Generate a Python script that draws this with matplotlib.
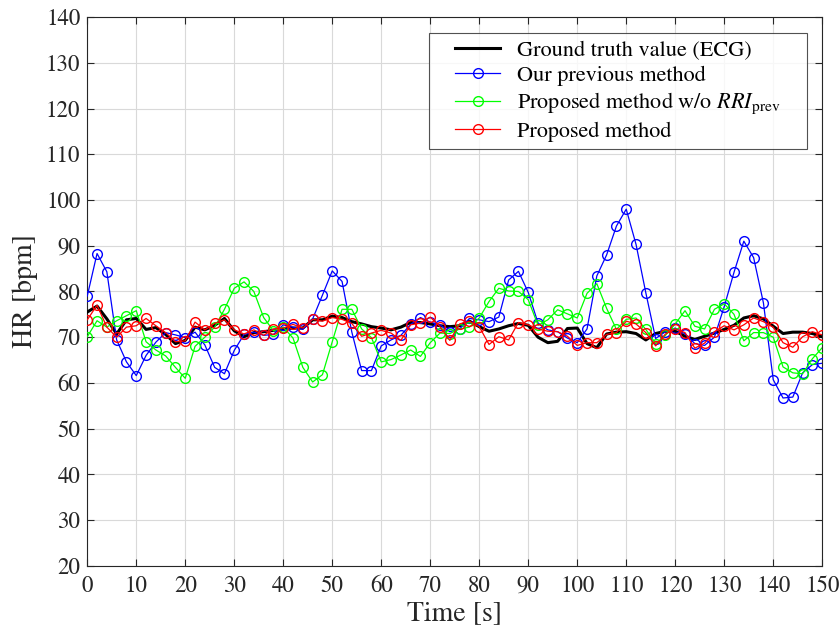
import numpy as np
import matplotlib
matplotlib.use('Agg')
import matplotlib.pyplot as plt
from matplotlib.legend_handler import HandlerLine2D

# Heart rate estimates, one value every 2 s (0 - 150 s)
time_s = np.arange(0, 151, 2)

hr_ecg = [75.5, 76.8, 74.0, 70.7, 73.8, 74.1, 71.7, 72.1, 70.6, 68.6,
          69.3, 72.2, 71.6, 72.6, 74.1, 71.4, 70.1, 71.0, 71.2, 71.5,
          71.8, 72.0, 72.0, 73.8, 73.8, 74.6, 74.3, 73.4, 72.9, 72.3,
          72.0, 71.6, 72.2, 73.2, 73.2, 72.9, 72.5, 72.3, 72.5, 73.5,
          72.3, 71.3, 71.8, 72.5, 73.0, 72.6, 70.0, 68.8, 69.1, 71.9,
          72.0, 68.6, 67.7, 70.7, 71.1, 71.2, 70.8, 69.4, 70.8, 71.3,
          71.3, 70.2, 69.5, 70.2, 70.9, 71.7, 72.6, 74.2, 74.7, 74.0,
          72.4, 70.8, 71.1, 71.1, 70.8, 70.1]

hr_previous = [79.0, 88.3, 84.3, 69.4, 64.6, 61.6, 66.0, 68.9, 71.0, 70.5,
               69.9, 71.1, 68.3, 63.4, 62.0, 67.1, 70.6, 71.1, 70.4, 70.6,
               72.7, 72.2, 71.7, 74.0, 79.2, 84.5, 82.2, 71.1, 62.7, 62.7,
               68.1, 69.4, 70.4, 72.8, 74.3, 73.3, 72.7, 71.2, 71.8, 74.1,
               73.8, 73.4, 74.4, 82.5, 84.4, 79.8, 73.1, 71.6, 71.2, 69.8,
               68.8, 71.8, 83.4, 88.0, 94.3, 98.0, 90.3, 79.7, 69.7, 71.2,
               72.0, 70.7, 68.6, 68.2, 70.0, 76.7, 84.2, 91.0, 87.4, 77.5,
               60.7, 56.7, 56.9, 62.2, 64.0, 64.3]

hr_no_rri = [70.1, 73.6, 72.2, 73.6, 74.7, 75.8, 69.0, 67.2, 65.9, 63.4,
             61.0, 68.0, 70.0, 72.2, 76.1, 80.7, 82.1, 80.0, 74.3, 71.4,
             72.2, 69.8, 63.4, 60.2, 61.8, 69.0, 76.1, 76.1, 71.8, 69.9,
             64.6, 65.1, 66.1, 67.2, 65.8, 68.8, 70.9, 70.8, 71.8, 72.2,
             74.2, 77.8, 80.7, 80.1, 80.0, 78.2, 72.6, 73.8, 76.0, 75.1,
             74.2, 79.6, 81.7, 76.3, 71.7, 73.9, 74.2, 71.7, 68.6, 70.4,
             72.9, 75.8, 72.4, 71.8, 76.1, 77.3, 75.0, 69.2, 71.0, 71.0,
             70.0, 63.5, 62.2, 62.0, 65.3, 67.7]

hr_proposed = [73.8, 77.0, 72.2, 70.0, 72.2, 72.5, 74.1, 72.5, 71.0, 69.0,
               69.2, 73.3, 71.6, 73.0, 73.8, 71.6, 70.7, 71.6, 70.4, 71.8,
               72.0, 72.8, 72.0, 73.9, 73.5, 74.3, 73.9, 73.0, 70.2, 70.9,
               71.5, 70.9, 69.3, 72.7, 73.1, 74.4, 72.3, 69.3, 72.9, 73.5,
               72.3, 68.4, 70.1, 69.4, 73.2, 72.7, 71.8, 71.3, 71.2, 70.2,
               68.2, 68.8, 68.8, 70.6, 71.0, 73.5, 72.9, 71.0, 68.1, 70.7,
               71.8, 71.0, 67.6, 68.7, 71.2, 72.5, 71.6, 72.7, 74.2, 73.4,
               72.2, 68.8, 67.8, 70.1, 71.2, 70.5]

x_ticks = np.arange(0, 151, 10)
y_ticks = np.arange(20, 141, 10)

# Times-like look for all text
plt.rcParams['font.family'] = ['STIXGeneral', 'Liberation Serif', 'DejaVu Serif']
plt.rcParams['mathtext.fontset'] = 'stix'

axis_color = (0.15, 0.15, 0.15)

fig = plt.figure(figsize=(8.39, 6.35), dpi=100)
ax = fig.add_axes([0.104, 0.109, 0.876, 0.864])

# series
ax.plot(time_s, hr_ecg, color='black', linewidth=2.2, label='Ground truth value (ECG)', zorder=3)
ax.plot(time_s, hr_previous, color='blue', linewidth=0.9, marker='o', markersize=7,
        markerfacecolor='none', markeredgewidth=1.0, label='Our previous method', zorder=4)
ax.plot(time_s, hr_no_rri, color=(0, 1, 0), linewidth=0.9, marker='o', markersize=7,
        markerfacecolor='none', markeredgewidth=1.0,
        label=r'Proposed method w/o $\mathit{RRI}_{\mathrm{prev}}$', zorder=4)
ax.plot(time_s, hr_proposed, color='red', linewidth=0.9, marker='o', markersize=7,
        markerfacecolor='none', markeredgewidth=1.0, label='Proposed method', zorder=5)

# axes, ticks and grid in the MATLAB style
ax.set_xlim(0, 150)
ax.set_ylim(20, 140)
ax.set_xticks(x_ticks)
ax.set_yticks(y_ticks)
ax.tick_params(direction='in', length=5, width=0.8, color=axis_color,
               labelsize=16.5, labelcolor=axis_color, top=True, right=True)
ax.tick_params(axis='x', pad=7)
ax.tick_params(axis='y', pad=5)
for side in ax.spines.values():
    side.set_color(axis_color)
    side.set_linewidth(0.8)
ax.grid(True, color=(0.85, 0.85, 0.85), linewidth=0.8)
ax.set_axisbelow(True)

ax.set_xlabel('Time [s]', fontsize=20, color=axis_color, labelpad=3)
ax.set_ylabel('HR [bpm]', fontsize=20, color=axis_color, labelpad=6)

# legend box with a wide left margin in front of the short handle lines
leg = ax.legend(loc='upper left', bbox_to_anchor=(0.4653, 0.0, 0.5143, 0.9703),
                mode='expand', borderaxespad=0.0, fontsize=16, frameon=True,
                fancybox=False, handlelength=2.9, handletextpad=0.75,
                borderpad=0.3, labelspacing=0.22,
                handler_map={matplotlib.lines.Line2D: HandlerLine2D(xpad=0.85)})
leg.get_frame().set_edgecolor(axis_color)
leg.get_frame().set_linewidth(0.8)

fig.savefig('out.png', dpi=100)
